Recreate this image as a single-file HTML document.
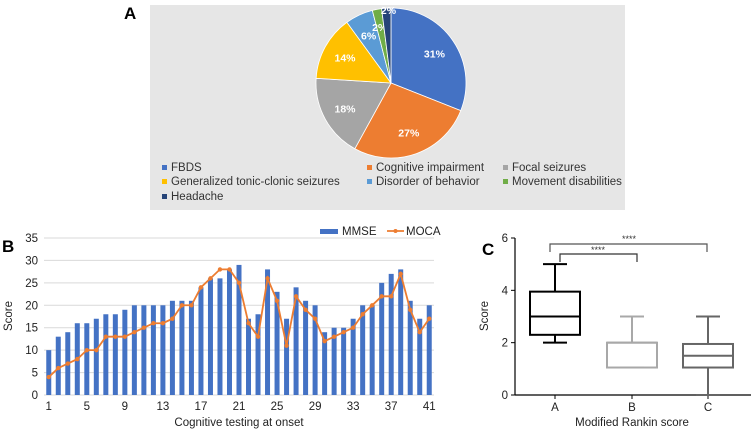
<!DOCTYPE html>
<html><head><meta charset="utf-8"><style>
html,body{margin:0;padding:0;background:#fff}
svg{display:block;font-family:"Liberation Sans",Arial,sans-serif}
</style></head><body>
<svg id="s" width="753" height="431" viewBox="0 0 753 431">
<text x="124" y="19" font-size="17" font-weight="bold">A</text>
<rect x="150" y="5" width="475" height="205" fill="#e6e6e6"/>
<g id="pie"></g>
<g id="pieLegend"></g>
<text x="2" y="252" font-size="17" font-weight="bold">B</text>
<g id="bar"></g>
<text x="482" y="255" font-size="17" font-weight="bold">C</text>
<g id="box"></g>
</svg>
<script>
const pieLabels=["FBDS","Cognitive impairment","Focal seizures","Generalized tonic-clonic seizures","Disorder of behavior","Movement disabilities","Headache"];
const pieValues=[31,27,18,14,6,2,2];
const pieColors=["#4472c4","#ed7d31","#a5a5a5","#ffc000","#5b9bd5","#70ad47","#264478"];
const categories=[];for(let i=1;i<=41;i++)categories.push(i);
const mmse=[10,13,14,16,16,17,18,18,19,20,20,20,20,21,21,21,24,26,26,28,29,17,18,28,23,17,24,21,20,14,15,15,17,20,20,25,27,28,21,17,20];
const moca=[4,6,7,8,10,10,13,13,13,14,15,16,16,17,20,20,24,26,28,28,25,16,13,26,21,11,22,19,17,12,13,14,15,18,20,22,22,27,19,14,17];
const yTicksB=[0,5,10,15,20,25,30,35];
const xTickLabelsB=[1,5,9,13,17,21,25,29,33,37,41];
const boxGroups=["A","B","C"];
const boxMin=[2,1.05,0];
const boxQ1=[2.3,1.05,1.05];
const boxMed=[3,2,1.5];
const boxQ3=[3.95,2,1.95];
const boxMax=[5,3,3];
const yTicksC=[0,2,4,6];
const NS="http://www.w3.org/2000/svg";
function el(p,t,a,txt){const e=document.createElementNS(NS,t);for(const k in a)e.setAttribute(k,a[k]);if(txt!==undefined)e.textContent=txt;p.appendChild(e);return e;}
// PIE
(function(){
const g=document.getElementById('pie');const cx=391,cy=83,r=75;
const tot=pieValues.reduce((a,b)=>a+b,0);let a0=-Math.PI/2;
pieValues.forEach((v,i)=>{const a1=a0+v/tot*2*Math.PI;
const x0=cx+r*Math.cos(a0),y0=cy+r*Math.sin(a0),x1=cx+r*Math.cos(a1),y1=cy+r*Math.sin(a1);
const p=el(g,'path',{d:`M${cx},${cy}L${x0},${y0}A${r},${r} 0 ${a1-a0>Math.PI?1:0} 1 ${x1},${y1}Z`,fill:pieColors[i],stroke:'#fff','stroke-width':0.8});


const am=(a0+a1)/2;let rr=r*0.7,dx=0,dy=0;
if(i===5){rr=r*0.8;dx=0;dy=3;}
if(i===6){rr=r*0.95;dx=2;dy=-2;}
const t=el(g,'text',{x:cx+rr*Math.cos(am)+dx,y:cy+rr*Math.sin(am)+4+dy,'font-size':10.5,'font-weight':'bold',fill:'#fff','text-anchor':'middle'},v+'%');


a0=a1;});
const lg=document.getElementById('pieLegend');
const pos=[[162,171],[367,171],[503,171],[162,185],[367,185],[503,185],[162,200]];
pieLabels.forEach((l,i)=>{const [x,y]=pos[i];
const gg=el(lg,'g',{});


el(gg,'rect',{x:x,y:y-6,width:5,height:5,fill:pieColors[i]});
el(gg,'text',{x:x+9,y:y,'font-size':11.5,fill:'#333'},l);});
})();
// BAR+LINE
(function(){
const g=document.getElementById('bar');const L=44,R=434,T=238,B=395;
const ymax=35;const y=v=>B-(v/ymax)*(B-T);
const step=(R-L)/categories.length;const x=i=>L+step*(i+0.5);
yTicksB.forEach(t=>{el(g,'line',{x1:L,x2:R,y1:y(t),y2:y(t),stroke:'#d9d9d9','stroke-width':1});
el(g,'text',{x:L-6,y:y(t)+4,'font-size':11.5,'text-anchor':'end',fill:'#222'},t);});
mmse.forEach((v,i)=>{const b=el(g,'rect',{x:x(i)-2.5,y:y(v),width:5,height:B-y(v),fill:'#4472c4'});

});
el(g,'polyline',{points:moca.map((v,i)=>x(i)+','+y(v)).join(' '),fill:'none',stroke:'#ed7d31','stroke-width':1.8});
moca.forEach((v,i)=>{const c=el(g,'circle',{cx:x(i),cy:y(v),r:2.2,fill:'#ed7d31'});

});
xTickLabelsB.forEach(c=>{el(g,'text',{x:x(c-1),y:410,'font-size':11.5,'text-anchor':'middle',fill:'#222'},c);});
el(g,'text',{x:239,y:426,'font-size':11.5,'text-anchor':'middle',fill:'#222'},'Cognitive testing at onset');
el(g,'text',{x:12,y:316,'font-size':11.5,'text-anchor':'middle',fill:'#222',transform:'rotate(-90 12 316)'},'Score');
const lg=el(g,'g',{});
el(lg,'rect',{x:320,y:229,width:18,height:5,fill:'#4472c4'});
el(lg,'text',{x:342,y:235,'font-size':11.5,fill:'#222'},'MMSE');
el(lg,'line',{x1:387,x2:404,y1:231,y2:231,stroke:'#ed7d31','stroke-width':1.8});
el(lg,'circle',{cx:395.5,cy:231,r:2,fill:'#ed7d31'});
el(lg,'text',{x:406,y:235,'font-size':11.5,fill:'#222'},'MOCA');
})();
// BOX
(function(){
const g=document.getElementById('box');const L=515,R=751,T=238,B=395;
const y=v=>B-(v/6)*(B-T);const xs=[555,632,708];const hw=25;
const cols=['#000','#a8a8a8','#666'];
el(g,'line',{x1:L,x2:L,y1:T,y2:B,stroke:'#000','stroke-width':1.2});
el(g,'line',{x1:L,x2:R,y1:B,y2:B,stroke:'#000','stroke-width':1.2});
yTicksC.forEach(t=>{el(g,'line',{x1:L-4,x2:L,y1:y(t),y2:y(t),stroke:'#000'});
el(g,'text',{x:L-7,y:y(t)+4,'font-size':11.5,'text-anchor':'end',fill:'#222'},t);});
boxGroups.forEach((n,i)=>{const X=xs[i],c=cols[i];
el(g,'line',{x1:X,x2:X,y1:B,y2:B+4,stroke:'#000'});
el(g,'text',{x:X,y:411,'font-size':11.5,'text-anchor':'middle',fill:'#222'},n);
const bg=el(g,'g',{stroke:c,'stroke-width':2,fill:'none'});


el(bg,'line',{x1:X,x2:X,y1:y(boxMax[i]),y2:y(boxQ3[i])});
el(bg,'line',{x1:X,x2:X,y1:y(boxQ1[i]),y2:y(boxMin[i])});
el(bg,'line',{x1:X-12,x2:X+12,y1:y(boxMax[i]),y2:y(boxMax[i])});
el(bg,'line',{x1:X-12,x2:X+12,y1:y(boxMin[i]),y2:y(boxMin[i])});
el(bg,'rect',{x:X-hw,y:y(boxQ3[i]),width:2*hw,height:y(boxQ1[i])-y(boxQ3[i])});
el(bg,'line',{x1:X-hw,x2:X+hw,y1:y(boxMed[i]),y2:y(boxMed[i])});});
el(g,'text',{x:632,y:426,'font-size':11.5,'text-anchor':'middle',fill:'#222'},'Modified Rankin score');
el(g,'text',{x:488,y:316,'font-size':11.5,'text-anchor':'middle',fill:'#222',transform:'rotate(-90 488 316)'},'Score');
el(g,'path',{d:'M550,252V244H707V252',fill:'none',stroke:'#555','stroke-width':1.2});
el(g,'path',{d:'M560,262V254H637V262',fill:'none',stroke:'#333','stroke-width':1.2});
el(g,'text',{x:629,y:242,'font-size':9,'text-anchor':'middle',fill:'#333'},'****');
el(g,'text',{x:598,y:253,'font-size':9,'text-anchor':'middle',fill:'#333'},'****');
})();
</script>
</body></html>
